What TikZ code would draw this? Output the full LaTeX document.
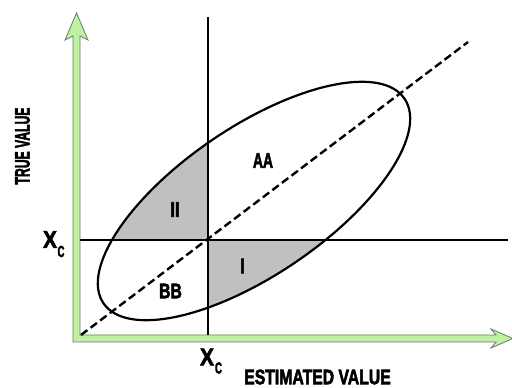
\documentclass[tikz,border=0pt]{standalone}
\usepackage{fontspec}
\setmainfont{Liberation Sans}[BoldFont={Liberation Sans Bold}]
\newfontfamily\lblfont{Liberation Sans Bold}[FakeBold=3]
\definecolor{axgreen}{RGB}{190,242,160}
\definecolor{axedge}{RGB}{110,120,110}
\definecolor{shadegray}{RGB}{192,192,192}
\begin{document}
\begin{tikzpicture}[x=1pt,y=1pt,
  lbl/.style={inner sep=0pt, font=\lblfont\fontsize{21}{21}\selectfont},
  bigx/.style={inner sep=0pt, font=\lblfont\fontsize{24}{24}\selectfont},
  subc/.style={inner sep=0pt, font=\lblfont\fontsize{16}{16}\selectfont},
  thick line/.style={line width=2.4pt},
  ell/.style={line width=2.2pt}]
\useasboundingbox (0,0) rectangle (512,388);
\fill[white] (0,0) rectangle (512,388);
% axes (L shaped arrow pair)
\begin{scope}
\clip (0,0) rectangle (512,388);
\filldraw[fill=axgreen, draw=axedge, line width=0.8pt]
  (76.5,375) -- (88,348) -- (80,352) -- (80,53) -- (496,53) -- (491,59)
  -- (513,49.5) -- (491,40) -- (496,46) -- (73,46) -- (73,352)
  -- (65,348) -- cycle;
\end{scope}
% shaded regions
\begin{scope}
\clip[rotate around={34.2:(254,187)}] (254,187) ellipse [x radius=182pt, y radius=74pt];
\fill[shadegray] (0,148) rectangle (208,400);
\fill[shadegray] (208,0) rectangle (600,148);
\end{scope}
% named points
\coordinate (vtop) at (208,371);
\coordinate (vbot) at (208,53);
\coordinate (hl) at (80,148);
\coordinate (hr) at (508,148);
\coordinate (d0) at (81,53);
\coordinate (d1) at (468,346);
\draw[thick line] (vtop) -- (vbot);
\draw[thick line] (hl) -- (hr);
\draw[line width=2.4pt, dash pattern=on 8pt off 4pt] (d0) -- (d1);
\draw[ell, rotate around={34.2:(254,187)}] (254,187) ellipse [x radius=182pt, y radius=74pt];
% labels
\node[lbl] (aa) at (263,227.5) {\scalebox{0.66}[1]{AA}};
\node[lbl] (ii) at (175,178.5) {\scalebox{0.8}[1]{II}};
\node[lbl] (i) at (242.5,122) {\scalebox{0.8}[1]{I}};
\node[lbl] (bb) at (170.5,97) {\scalebox{0.75}[1]{BB}};
\node[lbl] (est) at (317.5,11) {\scalebox{0.75}[1]{ESTIMATED VALUE}};
\node[lbl, rotate=90] (tru) at (22.5,242) {\scalebox{0.58}[1]{TRUE VALUE}};
\node[bigx] (xl) at (50,148.5) {\scalebox{0.86}[1]{X}};
\node[subc] (cl) at (61,136.5) {\scalebox{0.6}[1]{C}};
\node[bigx] (xb) at (207,31) {\scalebox{0.86}[1]{X}};
\node[subc] (cb) at (218.5,20) {\scalebox{0.6}[1]{C}};
\end{tikzpicture}
\end{document}
